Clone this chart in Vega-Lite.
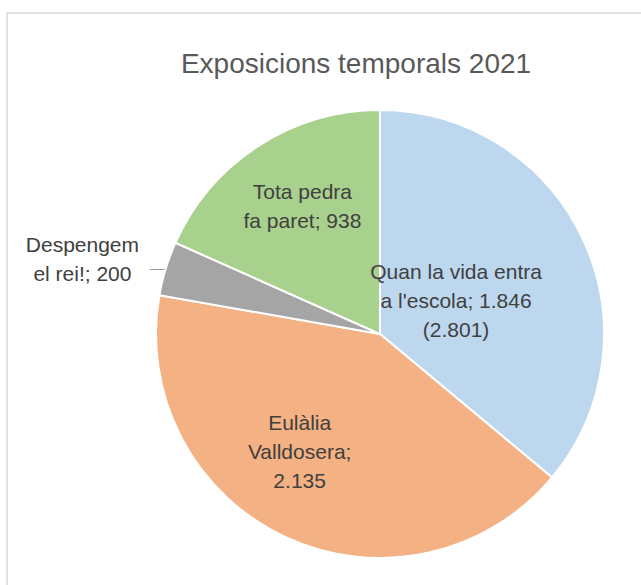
{
  "$schema": "https://vega.github.io/schema/vega-lite/v6.json",
  "autosize": "none",
  "padding": {"left": 7, "top": 13, "right": -112, "bottom": -70},
  "width": 746,
  "height": 642,
  "background": "white",
  "view": {"stroke": "#d9d9d9", "strokeWidth": 1.5},
  "config": {
    "view": {"stroke": "#d9d9d9", "strokeWidth": 1.5},
    "font": "Liberation Sans"
  },
  "title": {
    "text": "Exposicions temporals 2021",
    "orient": "top",
    "anchor": "middle",
    "baseline": "alphabetic",
    "offset": -88,
    "dx": -24,
    "fontSize": 28,
    "fontWeight": "normal",
    "color": "#595959",
    "font": "Liberation Sans"
  },
  "data": {
    "values": [
      {"ordre": 1, "nom": "Quan la vida entra a l'escola", "valor": 1846, "label": ["Quan la vida entra", "a l'escola; 1.846", "(2.801)"]},
      {"ordre": 2, "nom": "Eulàlia Valldosera", "valor": 2135, "label": ["Eulàlia", "Valldosera;", "2.135"]},
      {"ordre": 3, "nom": "Despengem el rei!", "valor": 200, "label": ["Despengem", "el rei!; 200"]},
      {"ordre": 4, "nom": "Tota pedra fa paret", "valor": 938, "label": ["Tota pedra", "fa paret; 938"]}
    ]
  },
  "encoding": {
    "theta": {"field": "valor", "type": "quantitative", "stack": true},
    "order": {"field": "ordre", "type": "quantitative"}
  },
  "layer": [
    {
      "mark": {"type": "arc", "outerRadius": 224, "stroke": "white", "strokeWidth": 2},
      "encoding": {
        "color": {
          "field": "nom",
          "type": "nominal",
          "legend": null,
          "scale": {
            "domain": ["Quan la vida entra a l'escola", "Eulàlia Valldosera", "Despengem el rei!", "Tota pedra fa paret"],
            "range": ["#BDD7EE", "#F4B183", "#A5A5A5", "#A9D18E"]
          }
        }
      }
    },
    {
      "mark": {"type": "text", "radius": 84, "dy": -25, "fontSize": 21, "lineHeight": 29, "color": "#404040", "align": "center", "baseline": "middle"},
      "encoding": {"text": {"condition": {"test": "datum.ordre === 1", "field": "label"}, "value": ""}}
    },
    {
      "mark": {"type": "text", "radius": 141, "dx": -21, "dy": -38, "fontSize": 21, "lineHeight": 29, "color": "#404040", "align": "center", "baseline": "middle"},
      "encoding": {"text": {"condition": {"test": "datum.ordre === 2", "field": "label"}, "value": ""}}
    },
    {
      "mark": {"type": "text", "radius": 307, "dx": -4, "dy": 2, "fontSize": 21, "lineHeight": 29, "color": "#404040", "align": "center", "baseline": "middle"},
      "encoding": {"text": {"condition": {"test": "datum.ordre === 3", "field": "label"}, "value": ""}}
    },
    {
      "mark": {"type": "text", "radius": 148, "dx": 3, "dy": -17, "fontSize": 21, "lineHeight": 29, "color": "#404040", "align": "center", "baseline": "middle"},
      "encoding": {"text": {"condition": {"test": "datum.ordre === 4", "field": "label"}, "value": ""}}
    },
    {
      "mark": {"type": "text", "radius": 233, "dy": 2, "fontSize": 15, "color": "#a0a0a0", "align": "center", "baseline": "middle"},
      "encoding": {"text": {"condition": {"test": "datum.ordre === 3", "value": "—"}, "value": ""}}
    }
  ]
}
